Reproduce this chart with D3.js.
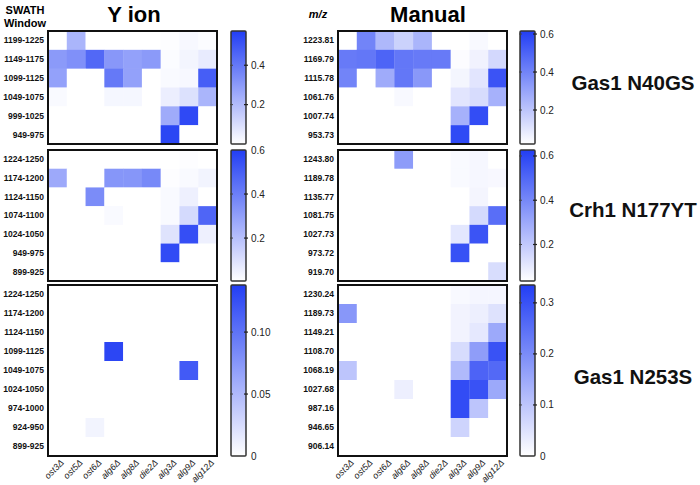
<!DOCTYPE html>
<html><head><meta charset="utf-8">
<script src="https://cdn.jsdelivr.net/npm/d3@7"></script>
<style>body{margin:0;background:#fff}svg{display:block}text{font-family:"Liberation Sans",Arial,sans-serif}</style>
</head><body><svg id="c" width="700" height="485"></svg>
<script>
const columns = ["ost3Δ","ost5Δ","ost6Δ","alg6Δ","alg8Δ","die2Δ","alg3Δ","alg9Δ","alg12Δ"];

// Gas1 N40GS
const rowsYion1 = ["1199-1225","1149-1175","1099-1125","1049-1075","999-1025","949-975"];
const valsYion1 = [
  [0,0.22,0,0,0,0,0.005,0.02,0.01],
  [0.30,0.33,0.45,0.31,0.28,0.30,0.01,0.03,0.06],
  [0.28,0,0,0.40,0.28,0,0.015,0.02,0.48],
  [0.015,0,0,0.025,0.025,0,0.05,0.09,0.22],
  [0,0,0,0,0,0,0.25,0.54,0],
  [0,0,0,0,0,0,0.55,0,0]];
const rowsMan1 = ["1223.81","1169.79","1115.78","1061.76","1007.74","953.73"];
const valsMan1 = [
  [0,0.40,0.24,0.16,0.25,0,0,0.04,0],
  [0.43,0.44,0.50,0.44,0.43,0.43,0.03,0.06,0.14],
  [0.40,0,0.28,0.44,0.34,0,0.05,0.10,0.55],
  [0,0,0,0.04,0,0,0.10,0.13,0.26],
  [0,0,0,0,0,0,0.26,0.57,0],
  [0,0,0,0,0,0,0.58,0,0]];
// Crh1 N177YT
const rowsYion2 = ["1224-1250","1174-1200","1124-1150","1074-1100","1024-1050","949-975","899-925"];
const valsYion2 = [
  [0,0,0,0,0,0,0,0.01,0],
  [0.27,0,0,0.33,0.33,0.37,0.01,0.02,0.04],
  [0,0,0.36,0,0,0,0.02,0.05,0],
  [0,0,0,0.02,0,0,0.02,0.12,0.48],
  [0,0,0,0,0,0,0.09,0.55,0.05],
  [0,0,0,0,0,0,0.56,0,0],
  [0,0,0,0,0,0,0,0,0]];
const rowsMan2 = ["1243.80","1189.78","1135.77","1081.75","1027.73","973.72","919.70"];
const valsMan2 = [
  [0,0,0,0.34,0,0,0.05,0.06,0],
  [0,0,0,0,0,0,0.05,0.06,0.055],
  [0,0,0,0,0,0,0,0.065,0],
  [0,0,0,0,0,0,0,0.15,0.48],
  [0,0,0,0,0,0,0.11,0.56,0],
  [0,0,0,0,0,0,0.57,0,0],
  [0,0,0,0,0,0,0,0,0.14]];
// Gas1 N253S
const rowsYion3 = ["1224-1250","1174-1200","1124-1150","1099-1125","1049-1075","1024-1050","974-1000","924-950","899-925"];
const valsYion3 = [
  [0,0,0,0,0,0,0,0,0],
  [0,0,0,0,0,0,0,0,0],
  [0,0,0,0,0,0,0,0,0],
  [0,0,0,0.132,0,0,0,0,0],
  [0,0,0,0,0,0,0,0.118,0],
  [0,0,0,0,0,0,0,0,0],
  [0,0,0,0,0,0,0,0,0],
  [0,0,0.008,0,0,0,0,0,0],
  [0,0,0,0,0,0,0,0,0]];
const rowsMan3 = ["1230.24","1189.73","1149.21","1108.70","1068.19","1027.68","987.16","946.65","906.14"];
const valsMan3 = [
  [0,0,0,0,0,0,0.01,0.015,0.015],
  [0.18,0,0,0,0,0,0.02,0.027,0.05],
  [0,0,0,0,0,0,0.02,0.04,0.15],
  [0,0,0,0,0,0,0.06,0.17,0.30],
  [0.10,0,0,0,0,0,0.12,0.27,0.26],
  [0,0,0,0.027,0,0,0.31,0.30,0.15],
  [0,0,0,0,0,0,0.31,0.10,0],
  [0,0,0,0,0,0,0.075,0,0],
  [0,0,0,0,0,0,0,0,0]];

const colorbarDomains = [[0,0.574],[0.021,0.616],[0.005,0.6],[0.035,0.627],[0,0.138],[0,0.335]];
const colorbarTicks = [[0.2,0.4],[0.2,0.4,0.6],[0.2,0.4,0.6],[0.2,0.4,0.6],[0,0.05,0.10],[0,0.1,0.2,0.3]];
const colorbarTickLabels = [["0.2","0.4"],["0.2","0.4","0.6"],["0.2","0.4","0.6"],["0.2","0.4","0.6"],["0","0.05","0.10"],["0","0.1","0.2","0.3"]];
const peptides = ["Gas1 N40GS","Crh1 N177YT","Gas1 N253S"];

const svg = d3.select("#c");
const interp = d3.interpolateRgb("#ffffff", "rgb(34,62,244)");

const colX = [[48,217,231,246],[338,507,520,535]];
const rowY = [[31,144],[150,281],[285,456]];
const panels = [
  [rowsYion1,valsYion1],[rowsMan1,valsMan1],
  [rowsYion2,valsYion2],[rowsMan2,valsMan2],
  [rowsYion3,valsYion3],[rowsMan3,valsMan3]];

const defs = svg.append("defs");
const grad = defs.append("linearGradient").attr("id","g").attr("x1",0).attr("y1",1).attr("x2",0).attr("y2",0);
d3.range(0,1.0001,0.1).forEach(t=>grad.append("stop").attr("offset",t).attr("stop-color",interp(t)));

panels.forEach(([rows,vals],i)=>{
  const r = Math.floor(i/2), c = i%2;
  const [x0,x1,cb0,cb1] = colX[c];
  const [y0,y1] = rowY[r];
  const x = d3.scaleBand().domain(columns).range([x0,x1]);
  const y = d3.scaleBand().domain(rows).range([y0,y1]);
  const dom = colorbarDomains[i];
  const col = d3.scaleLinear().domain(dom).range([0,1]).clamp(true);
  const g = svg.append("g");
  rows.forEach((rw,ri)=>columns.forEach((cl,ci)=>{
    const v = vals[ri][ci];
    g.append("rect").attr("x",x(cl)).attr("y",y(rw)).attr("width",x.bandwidth()+0.3).attr("height",y.bandwidth()+0.3)
      .attr("fill",interp(col(v)));
  }));
  g.append("rect").attr("x",x0).attr("y",y0).attr("width",x1-x0).attr("height",y1-y0)
    .attr("fill","none").attr("stroke","#111").attr("stroke-width",2);
  // row labels
  g.selectAll(".rl").data(rows).enter().append("text")
    .attr("x",x0-4).attr("y",d=>y(d)+y.bandwidth()/2).attr("dy","0.35em")
    .attr("text-anchor","end").attr("font-size",8.5).attr("font-weight","bold").attr("fill","#111").text(d=>d);
  // colorbar
  const cy = d3.scaleLinear().domain(dom).range([y1,y0]);
  g.append("rect").attr("x",cb0).attr("y",y0).attr("width",cb1-cb0).attr("height",y1-y0)
    .attr("fill","url(#g)").attr("stroke","#333").attr("stroke-width",1.5).attr("rx",1);
  colorbarTicks[i].forEach((t,ti)=>{
    const ty = cy(t);
    if (t>dom[0]+0.001 && t<dom[1]-0.001) {
      g.append("line").attr("x1",cb1-2).attr("x2",cb1+2).attr("y1",ty).attr("y2",ty).attr("stroke","#222").attr("stroke-width",1.2);
      g.append("line").attr("x1",cb0-1).attr("x2",cb0+2).attr("y1",ty).attr("y2",ty).attr("stroke","#444").attr("stroke-width",1);
    }
    g.append("text").attr("x",cb1+5).attr("y",ty).attr("dy","0.35em").attr("font-size",10).attr("fill","#222").text(colorbarTickLabels[i][ti]);
  });
  // column labels on bottom row
  if (r===2) {
    g.selectAll(".cl").data(columns).enter().append("text")
      .attr("transform",d=>`translate(${x(d)+x.bandwidth()/2+5},${y1+5}) rotate(-45)`)
      .attr("text-anchor","end").attr("dy","0.35em").attr("font-size",9).attr("font-style","italic").attr("fill","#222").text(d=>d);
  }
});

// titles
svg.append("text").attr("x",134).attr("y",22).attr("text-anchor","middle").attr("font-size",22).attr("font-weight","bold").text("Y ion");
svg.append("text").attr("x",428).attr("y",22).attr("text-anchor","middle").attr("font-size",22).attr("font-weight","bold").text("Manual");
svg.append("text").attr("x",25).attr("y",14).attr("text-anchor","middle").attr("font-size",11).attr("font-weight","bold").text("SWATH");
svg.append("text").attr("x",25).attr("y",27).attr("text-anchor","middle").attr("font-size",11).attr("font-weight","bold").text("Window");
svg.append("text").attr("x",318).attr("y",18).attr("text-anchor","middle").attr("font-size",11).attr("font-weight","bold").attr("font-style","italic").text("m/z");
const pepY = [83,210,377];
peptides.forEach((p,i)=>svg.append("text").attr("x",633).attr("y",pepY[i]).attr("dy","0.35em").attr("text-anchor","middle")
  .attr("font-size",20.5).attr("font-weight","bold").attr("fill","#111").text(p));
</script></body></html>
